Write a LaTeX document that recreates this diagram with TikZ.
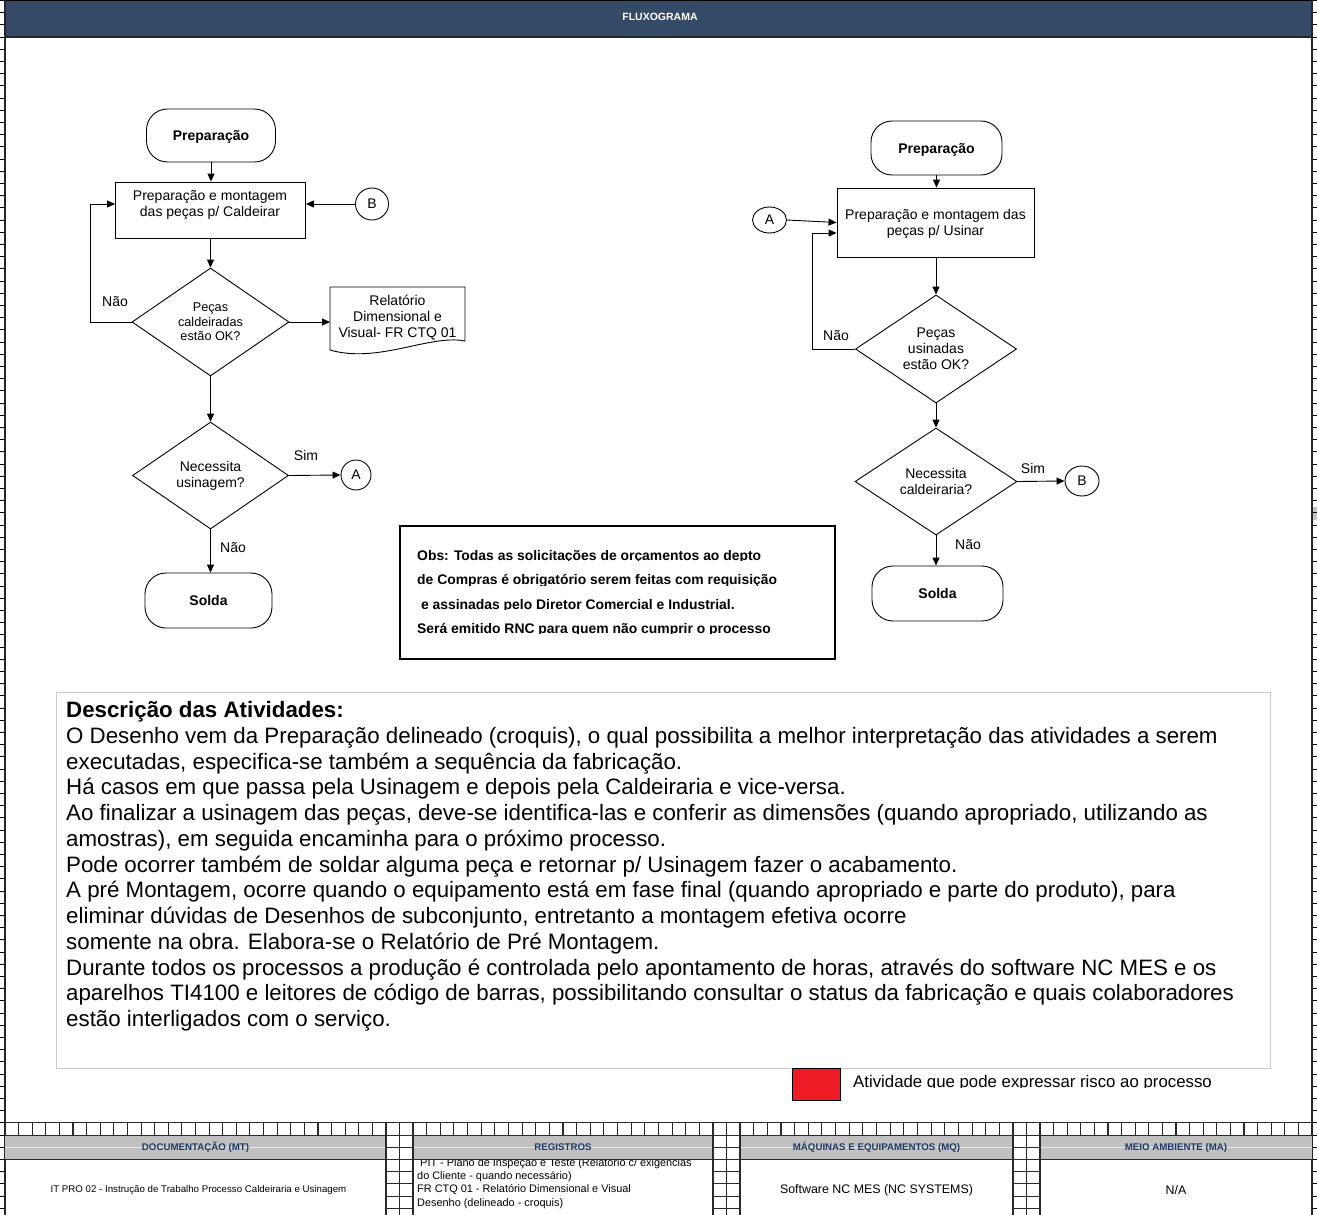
\documentclass[tikz,border=0pt]{standalone}
\usepackage{fontspec}
\setmainfont{Liberation Sans}
\usetikzlibrary{arrows.meta,shapes.geometric}

\definecolor{hdrblue}{HTML}{344A66}
\definecolor{bandgray}{HTML}{C0C0C0}
\definecolor{hdrtext}{HTML}{1F3A66}
\definecolor{riskred}{HTML}{ED1C24}
\definecolor{gridline}{HTML}{2A2A2A}

\tikzset{
  flow/.style={draw=black, line width=0.9pt},
  term/.style={flow, rectangle, rounded corners=21pt, inner sep=0pt, text depth=0pt,
    font=\fontsize{14}{16}\selectfont\bfseries},
  procbox/.style={flow, rectangle, inner sep=0pt},
  boxtext/.style={inner sep=0pt, align=center, font=\fontsize{14}{16}\selectfont},
  decision/.style={flow, diamond, inner sep=0pt, align=center,
    font=\fontsize{14}{16}\selectfont},
  conn/.style={flow, ellipse, inner sep=0pt, font=\fontsize{14}{16}\selectfont},
  arr/.style={line width=0.9pt, -{Triangle[length=8pt,width=7pt]}},
  lbl/.style={inner sep=0pt, font=\fontsize{14}{16}\selectfont},
  gridln/.style={draw=gridline, line width=1.1pt},
  hdrlbl/.style={inner sep=0pt, text=hdrtext, font=\fontsize{9.7}{11}\selectfont\bfseries},
  desctext/.style={inner sep=0pt, font=\fontsize{22.3}{25.75}\selectfont},
  obstext/.style={inner sep=0pt, font=\fontsize{13.9}{16}\selectfont\bfseries},
}

\begin{document}
\begin{tikzpicture}[x=1pt,y=-1pt]
\useasboundingbox (0,0) rectangle (1317,1215);
\fill[white] (0,0) rectangle (1317,1215);

% ---------- title bar ----------
\fill[hdrblue] (5,0) rectangle (1312,37);
\draw[line width=1pt] (5,0.5) -- (1312,0.5);
\draw[line width=1.6pt, black!85] (5,37) -- (1312,37);
\node[inner sep=0pt, text=white, font=\fontsize{10.5}{12}\selectfont\bfseries] (title) at (660,17) {FLUXOGRAMA};

% ---------- sheet edges with row ticks ----------
\fill[gray!45] (1313,507) rectangle (1317,520);
\foreach \k in {0,...,99} {
  \draw[line width=1pt] (0,{0.5+12.2*\k}) -- (5,{0.5+12.2*\k});
  \draw[line width=1pt] (1312,{0.5+12.2*\k}) -- (1317,{0.5+12.2*\k});
}
\draw[line width=1.6pt, black!85] (5,0) -- (5,1215);
\draw[line width=1.6pt, black!85] (1312,0) -- (1312,1215);

% ---------- left flow: caldeiraria ----------
\node[term, minimum width=129pt, minimum height=53pt] (prepL) at (211,135.5) {Preparação};
\node[procbox, minimum width=190pt, minimum height=56pt] (boxL) at (210.5,210) {};
\node[boxtext] (boxLt) at (210,205) {Preparação e montagem\\das peças p/ Caldeirar};
\node[decision, minimum width=157pt, minimum height=108pt, aspect=1.45,
  font=\fontsize{12.7}{14.5}\selectfont] (dec1) at (210.5,322) {Peças\\caldeiradas\\estão OK?};
\node[decision, minimum width=156pt, minimum height=107pt, aspect=1.45] (dec2) at (210.5,475.5)
  {Necessita\\usinagem?};
\node[term, minimum width=127pt, minimum height=55pt] (soldaL) at (208.5,600.5) {Solda};
\node[conn, minimum width=33pt, minimum height=32pt] (bL) at (372,204) {B};
\node[conn, minimum width=30pt, minimum height=30pt] (aL) at (356,475) {A};

% report document
\draw[flow] (330,350) -- (330,287) -- (465,287) -- (465,341)
  .. controls (430,334) and (378,364) .. (330,350);
\node[inner sep=0pt, align=center, font=\fontsize{14}{16}\selectfont] (rel) at (397.5,318)
  {Relatório\\Dimensional e\\Visual- FR CTQ 01};
\coordinate (relin) at (330,322);

\coordinate (loopL) at (90,204);
\draw[arr] (prepL.south) -- (prepL.south |- boxL.north);
\draw[arr] (boxL.south) -- (dec1.north);
\draw[arr] (dec1.south) -- (dec2.north);
\draw[arr] (dec2.south) -- (dec2.south |- soldaL.north);
\draw[arr] (dec1.west) -| (loopL) -- (loopL -| boxL.west);
\draw[arr] (bL.west) -- (bL.west -| boxL.east);
\draw[arr] (dec1.east) -- (relin);
\draw[arr] (dec2.east) -- (aL.west);

\node[lbl] (naoL1) at (115,302) {Não};
\node[lbl] (simL) at (306,455) {Sim};
\node[lbl] (naoL2) at (233,548) {Não};

% ---------- right flow: usinagem ----------
\node[term, minimum width=131pt, minimum height=54pt] (prepR) at (936.5,148) {Preparação};
\node[procbox, minimum width=197pt, minimum height=69pt] (boxR) at (935.5,222.5) {};
\node[boxtext] (boxRt) at (935.5,224) {Preparação e montagem das\\peças p/ Usinar};
\node[decision, minimum width=161pt, minimum height=108pt, aspect=1.5] (dec3) at (936,349)
  {Peças\\usinadas\\estão OK?};
\node[decision, minimum width=162pt, minimum height=107pt, aspect=1.5] (dec4) at (936,481.5)
  {Necessita\\caldeiraria?};
\node[term, minimum width=131pt, minimum height=55pt] (soldaR) at (937.5,593.5) {Solda};
\node[conn, minimum width=34pt, minimum height=26pt] (aR) at (769.5,220) {A};
\node[conn, minimum width=34pt, minimum height=30pt] (bR) at (1082,481) {B};

\coordinate (loopR) at (812,233);
\draw[arr] (prepR.south) -- (prepR.south |- boxR.north);
\draw[arr] (boxR.south -| dec3.north) -- (dec3.north);
\draw[arr] (dec3.south) -- (dec4.north);
\draw[arr] (dec4.south) -- (dec4.south |- soldaR.north);
\draw[arr] (aR.east) -- (boxR.west);
\draw[arr] (dec3.west) -| (loopR) -- (loopR -| boxR.west);
\draw[arr] (dec4.east) -- (bR.west);

\node[lbl] (naoR1) at (836,336) {Não};
\node[lbl] (simR) at (1033,468) {Sim};
\node[lbl] (naoR2) at (968,545) {Não};

% ---------- purchasing note ----------
\node[draw, line width=1.5pt, minimum width=435pt, minimum height=133pt, inner sep=0pt] (obsbox) at (617.5,592.5) {};
\foreach \t [count=\i from 0] in {
  {Obs: Todas as solicitações de orçamentos ao depto},
  {de Compras é obrigatório serem feitas com requisição},
  {\ e assinadas pelo Diretor Comercial e Industrial.},
  {Será emitido RNC para quem não cumprir o processo}} {
  \begin{scope}
    \clip (402,{560.5+24.3*\i-18}) rectangle (833,{560.5+24.3*\i+0.4});
    \node[obstext, anchor=base west] (ob\i) at (417,{560.5+24.3*\i}) {\t};
  \end{scope}
}

% ---------- activity description ----------
\node[draw=gray!40, line width=1pt, minimum width=1214pt, minimum height=376pt, inner sep=0pt] (descbox) at (663,880) {};
\node[desctext, font=\fontsize{22.3}{25.75}\selectfont\bfseries, anchor=base west] (dtitle) at (66,717.5) {Descrição das Atividades:};
\foreach \t [count=\i] in {
  {O Desenho vem da Preparação delineado (croquis), o qual possibilita a melhor interpretação das atividades a serem},
  {executadas, especifica-se também a sequência da fabricação.},
  {Há casos em que passa pela Usinagem e depois pela Caldeiraria e vice-versa.},
  {Ao finalizar a usinagem das peças, deve-se identifica-las e conferir as dimensões (quando apropriado, utilizando as},
  {amostras), em seguida encaminha para o próximo processo.},
  {Pode ocorrer também de soldar alguma peça e retornar p/ Usinagem fazer o acabamento.},
  {A pré Montagem, ocorre quando o equipamento está em fase final (quando apropriado e parte do produto), para},
  {eliminar dúvidas de Desenhos de subconjunto, entretanto a montagem efetiva ocorre},
  {somente na obra. Elabora-se o Relatório de Pré Montagem.},
  {Durante todos os processos a produção é controlada pelo apontamento de horas, através do software NC MES e os},
  {aparelhos TI4100 e leitores de código de barras, possibilitando consultar o status da fabricação e quais colaboradores},
  {estão interligados com o serviço.}} {
  \node[desctext, anchor=base west] (dl\i) at (66,{717.5+25.75*\i}) {\t};
}

% ---------- risk legend ----------
\node[draw, line width=0.8pt, fill=riskred, minimum width=48pt, minimum height=32pt, inner sep=0pt] (risk) at (816,1084) {};
\begin{scope}
  \clip (850,1068) rectangle (1260,1087.3);
  \node[inner sep=0pt, anchor=base west, font=\fontsize{16.8}{19}\selectfont] (risktxt) at (853,1087) {Atividade que pode expressar risco ao processo};
\end{scope}

% ---------- bottom table ----------
% gray header band of each column
\foreach \a/\b in {5/386, 413/713, 740/1013, 1040/1312}
  \fill[bandgray] (\a,1135.1) rectangle (\b,1159.5);
\foreach \a/\b in {5/386, 413/713, 740/1013, 1040/1312}
  \draw[white!82!gray, line width=0.7pt] (\a,1147.3) -- (\b,1147.3);
% strip of cells above the band
\foreach \a/\b/\n in {5/386/28, 386/413/2, 413/713/22, 713/740/2, 740/1013/20, 1013/1040/2, 1040/1312/20}
  \foreach \k in {1,...,\n}
    \draw[gridln] ({\a+(\b-\a)*\k/\n},1122.9) -- ({\a+(\b-\a)*\k/\n},1135.1);
\draw[gridln] (5,1122.9) -- (1312,1122.9);
\draw[gridln] (5,1135.1) -- (1312,1135.1);
\draw[gridln] (5,1159.5) -- (1312,1159.5);
% narrow cell columns between the sections
\foreach \a in {386, 713, 1013} {
  \foreach \yy in {1147.3, 1171.7, 1183.9, 1196.1, 1208.3}
    \draw[gridln] (\a,\yy) -- ({\a+27},\yy);
  \draw[gridln] (\a,1122.9) -- (\a,1215);
  \draw[gridln] ({\a+13.5},1122.9) -- ({\a+13.5},1215);
  \draw[gridln] ({\a+27},1122.9) -- ({\a+27},1215);
}

\node[hdrlbl] (hdoc) at (195.5,1147.5) {DOCUMENTAÇÃO (MT)};
\node[hdrlbl] (hreg) at (563,1147.5) {REGISTROS};
\node[hdrlbl] (hmaq) at (876.5,1147.5) {MÁQUINAS E EQUIPAMENTOS (MQ)};
\node[hdrlbl] (hamb) at (1176,1147.5) {MEIO AMBIENTE (MA)};

\node[inner sep=0pt, font=\fontsize{9.7}{11}\selectfont] (cdoc) at (198.5,1190)
  {IT PRO 02 - Instrução de Trabalho Processo Caldeiraria e Usinagem};
\begin{scope}
  \clip (414,1160.3) rectangle (712,1215);
  \foreach \t [count=\i from 0] in {
    {\ PIT - Plano de Inspeção e Teste (Relatório c/ exigências},
    {do Cliente - quando necessário)},
    {FR CTQ 01 - Relatório Dimensional e Visual},
    {Desenho (delineado - croquis)}}
    \node[inner sep=0pt, anchor=base west, font=\fontsize{10.9}{13}\selectfont] (creg\i) at (417,{1166.5+13.2*\i}) {\t};
\end{scope}
\node[inner sep=0pt, font=\fontsize{12.4}{14}\selectfont] (cmaq) at (876.5,1190) {Software NC MES (NC SYSTEMS)};
\node[inner sep=0pt, font=\fontsize{12.4}{14}\selectfont] (camb) at (1176,1190) {N/A};

\end{tikzpicture}
\end{document}
